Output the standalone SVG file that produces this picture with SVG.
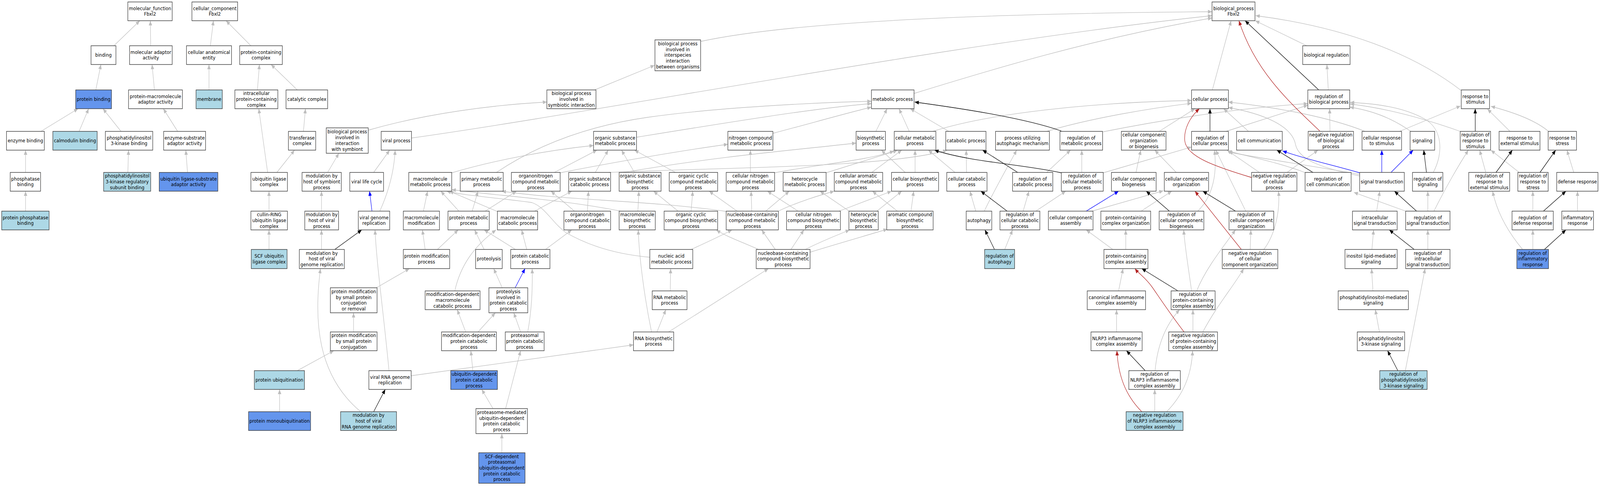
<svg xmlns="http://www.w3.org/2000/svg" width="4693" height="1243" viewBox="0 0 4693 1243" preserveAspectRatio="none" style="width:100%;height:100%">
<style>
.nd rect{stroke:#383838;stroke-width:1.4}
.w{fill:#fff}.lb{fill:#add8e6}.db{fill:#6495ed}
text{font-family:"DejaVu Sans","Liberation Sans",sans-serif;font-size:13px;text-anchor:middle;fill:#000}
#edges path{fill:none;stroke-width:1.3}
.g{stroke:#bebebe;marker-end:url(#mg)}.k{stroke:#000;marker-end:url(#mk)}.b{stroke:#00f;marker-end:url(#mb)}.r{stroke:#b22222;marker-end:url(#mr)}
</style>
<defs>
<marker id="mg" viewBox="0 0 12 10" refX="12" refY="5" markerWidth="12" markerHeight="10" markerUnits="userSpaceOnUse" orient="auto"><path d="M0,0 L12,5 L0,10 z" fill="#bebebe"/></marker>
<marker id="mk" viewBox="0 0 12 10" refX="12" refY="5" markerWidth="12" markerHeight="10" markerUnits="userSpaceOnUse" orient="auto"><path d="M0,0 L12,5 L0,10 z" fill="#000"/></marker>
<marker id="mb" viewBox="0 0 12 10" refX="12" refY="5" markerWidth="12" markerHeight="10" markerUnits="userSpaceOnUse" orient="auto"><path d="M0,0 L12,5 L0,10 z" fill="#00f"/></marker>
<marker id="mr" viewBox="0 0 12 10" refX="12" refY="5" markerWidth="12" markerHeight="10" markerUnits="userSpaceOnUse" orient="auto"><path d="M0,0 L12,5 L0,10 z" fill="#b22222"/></marker>
</defs>
<rect width="4693" height="1243" fill="#fff"/>
<g id="edges">
<path class="g" d="M334,117 L410,53"/>
<path class="g" d="M442,117 L441,53"/>
<path class="g" d="M617,117 L626,53"/>
<path class="g" d="M736,117 L663,53"/>
<path class="g" d="M281,230 L296,165"/>
<path class="g" d="M453,230 L446,165"/>
<path class="g" d="M613,230 L613,165"/>
<path class="g" d="M755,230 L761,165"/>
<path class="g" d="M872,230 L795,165"/>
<path class="g" d="M120,336 L229,278"/>
<path class="g" d="M232,336 L260,278"/>
<path class="g" d="M355,336 L302,278"/>
<path class="g" d="M521,336 L479,278"/>
<path class="g" d="M75,441 L75,384"/>
<path class="g" d="M375,441 L377,384"/>
<path class="g" d="M550,441 L545,384"/>
<path class="g" d="M785,441 L759,278"/>
<path class="g" d="M75,540 L75,489"/>
<path class="g" d="M789,540 L789,489"/>
<path class="g" d="M789,638 L789,588"/>
<path class="g" d="M812,441 L864,384"/>
<path class="g" d="M890,336 L896,278"/>
<path class="g" d="M1080,333 C1250,290 1450,268 1604,261"/>
<path class="g" d="M1207,353 C1800,280 2800,110 3555,40"/>
<path class="g" d="M961,441 L994,392"/>
<path class="g" d="M1096,441 L1143,384"/>
<path class="g" d="M1114,540 C1140,490 1156,440 1159,384"/>
<path class="g" d="M943,540 L943,489"/>
<path class="g" d="M943,638 L943,588"/>
<path class="g" d="M1325,442 C1450,410 1600,385 1741,372"/>
<path class="g" d="M1456,441 C1560,380 1700,325 1900,300 S2400,262 2556,259"/>
<path class="g" d="M1242,540 L1254,489"/>
<path class="g" d="M1346,540 L1293,489"/>
<path class="g" d="M1385,540 L1402,489"/>
<path class="g" d="M1423,540 L1515,489"/>
<path class="g" d="M1459,541 L1318,489"/>
<path class="g" d="M1247,638 L1239,588"/>
<path class="g" d="M1283,638 L1344,588"/>
<path class="g" d="M1420,638 L1392,588"/>
<path class="g" d="M1512,638 L1420,588"/>
<path class="g" d="M1545,638 L1530,588"/>
<path class="g" d="M1600,638 L1677,588"/>
<path class="g" d="M1104,736 L1201,687"/>
<path class="g" d="M1037,849 L1037,800"/>
<path class="g" d="M872,948 L979,897"/>
<path class="g" d="M820,1053 L820,996"/>
<path class="g" d="M1058,1053 C930,960 920,820 940,687"/>
<path class="g" d="M1141,948 C1125,800 1105,680 1100,588"/>
<path class="g" d="M1206,961 L1858,882"/>
<path class="g" d="M1334,744 C1350,680 1390,630 1455,588"/>
<path class="g" d="M1473,736 L1448,687"/>
<path class="g" d="M1366,849 L1341,792"/>
<path class="g" d="M1402,849 L1453,800"/>
<path class="g" d="M1527,849 L1507,800"/>
<path class="g" d="M1548,849 C1560,790 1562,740 1561,687"/>
<path class="g" d="M1387,948 L1381,897"/>
<path class="g" d="M1446,1045 L1413,996"/>
<path class="g" d="M1483,1045 L1527,897"/>
<path class="g" d="M1472,1158 L1472,1109"/>
<path class="g" d="M1744,230 L1920,167"/>
<path class="g" d="M2055,106 C2300,60 2800,35 3555,30"/>
<path class="g" d="M1867,351 C2100,318 2400,275 2556,265"/>
<path class="g" d="M2267,341 C2380,315 2480,290 2556,274"/>
<path class="g" d="M1626,441 L1751,384"/>
<path class="g" d="M1643,442 C1800,415 2000,385 2135,369"/>
<path class="g" d="M1746,441 L1784,384"/>
<path class="g" d="M1861,441 L1823,384"/>
<path class="g" d="M1981,441 L1861,384"/>
<path class="g" d="M2201,441 L2201,384"/>
<path class="g" d="M1830,441 C2100,400 2350,382 2511,366"/>
<path class="g" d="M1785,441 C2100,428 2600,430 2778,384"/>
<path class="g" d="M1685,540 L1616,489"/>
<path class="g" d="M1723,540 L1726,489"/>
<path class="g" d="M1871,540 L1874,489"/>
<path class="g" d="M1820,540 C1650,510 1450,500 1325,485"/>
<path class="g" d="M2027,540 L2032,489"/>
<path class="g" d="M1989,540 L1917,489"/>
<path class="g" d="M2162,540 L2080,489"/>
<path class="g" d="M2205,540 L2203,489"/>
<path class="g" d="M2246,540 L2315,489"/>
<path class="g" d="M2283,540 C2330,520 2400,500 2447,489"/>
<path class="g" d="M2132,541 C1900,512 1650,512 1472,489"/>
<path class="g" d="M2341,540 L2251,489"/>
<path class="g" d="M2461,540 L2615,489"/>
<path class="g" d="M2491,540 L2405,489"/>
<path class="g" d="M2572,540 L2645,489"/>
<path class="g" d="M2632,540 L2559,489"/>
<path class="g" d="M2672,540 L2680,489"/>
<path class="g" d="M2557,441 L2645,384"/>
<path class="g" d="M2423,442 L2632,385"/>
<path class="g" d="M2272,442 C2400,420 2550,410 2622,386"/>
<path class="g" d="M2684,441 L2684,384"/>
<path class="g" d="M2655,441 L2585,384"/>
<path class="g" d="M2801,441 L2723,384"/>
<path class="g" d="M2835,441 L2834,384"/>
<path class="g" d="M2569,336 L2602,278"/>
<path class="g" d="M2667,336 L2637,278"/>
<path class="g" d="M2783,336 L2670,278"/>
<path class="g" d="M2681,239 C2900,180 3200,100 3555,46"/>
<path class="g" d="M2736,336 C2900,290 3200,262 3495,257"/>
<path class="g" d="M3070,336 C3200,302 3380,276 3495,264"/>
<path class="g" d="M2862,540 L2845,489"/>
<path class="g" d="M2887,540 C2920,480 2960,420 2982,384"/>
<path class="g" d="M3001,540 L3018,489"/>
<path class="g" d="M3038,540 L3126,489"/>
<path class="g" d="M2947,638 L2970,588"/>
<path class="g" d="M3070,441 L3140,384"/>
<path class="g" d="M3173,441 L3173,384"/>
<path class="g" d="M3236,442 L3495,376"/>
<path class="g" d="M3556,230 L3611,53"/>
<path class="g" d="M3833,117 L3682,53"/>
<path class="g" d="M4285,231 C4150,140 3950,70 3683,40"/>
<path class="g" d="M3896,230 L3892,165"/>
<path class="g" d="M3901,336 L3900,278"/>
<path class="g" d="M3236,337 C3450,300 3650,275 3836,265"/>
<path class="g" d="M3400,336 L3505,278"/>
<path class="g" d="M3596,336 L3836,269"/>
<path class="g" d="M3662,336 L3589,278"/>
<path class="g" d="M3332,441 L3346,384"/>
<path class="g" d="M3450,441 L3387,384"/>
<path class="g" d="M3694,441 L3599,384"/>
<path class="g" d="M3775,441 L3866,384"/>
<path class="g" d="M3830,442 C3750,415 3660,400 3601,386"/>
<path class="g" d="M3988,446 C3850,425 3700,405 3603,389"/>
<path class="g" d="M3988,450 C3880,430 3810,410 3800,370 C3790,320 3700,290 3603,275"/>
<path class="g" d="M3203,540 L3412,488"/>
<path class="g" d="M3347,540 L3437,489"/>
<path class="g" d="M3513,540 C3560,500 3570,440 3562,384"/>
<path class="g" d="M3654,540 L3566,384"/>
<path class="g" d="M3667,638 L3669,588"/>
<path class="g" d="M3707,638 C3740,600 3755,540 3750,489"/>
<path class="g" d="M3302,638 L3302,588"/>
<path class="g" d="M3264,638 L3186,588"/>
<path class="g" d="M3281,744 L3294,687"/>
<path class="g" d="M3275,849 L3275,792"/>
<path class="g" d="M3495,744 C3485,680 3475,630 3472,588"/>
<path class="g" d="M3510,744 C3535,690 3580,640 3624,588"/>
<path class="g" d="M3499,849 L3499,792"/>
<path class="g" d="M3528,849 C3570,780 3620,730 3648,687"/>
<path class="g" d="M3388,948 C3395,880 3420,830 3460,792"/>
<path class="g" d="M3387,1053 L3387,996"/>
<path class="g" d="M3422,1053 C3470,1010 3495,960 3498,897"/>
<path class="g" d="M4105,336 L4284,271"/>
<path class="g" d="M4004,336 C3900,300 3750,275 3603,261"/>
<path class="g" d="M4138,336 C4080,300 4020,282 3959,274"/>
<path class="g" d="M4283,336 C4150,295 4050,275 3960,266"/>
<path class="g" d="M4204,441 C4235,390 4230,330 4180,305 C4120,275 4040,265 3960,262"/>
<path class="g" d="M4429,336 L4363,279"/>
<path class="g" d="M4542,336 C4500,305 4430,285 4373,272"/>
<path class="g" d="M4358,441 L4340,384"/>
<path class="g" d="M4456,441 L4373,384"/>
<path class="g" d="M4616,441 L4596,384"/>
<path class="g" d="M4038,540 L4047,489"/>
<path class="g" d="M4188,540 L4188,489"/>
<path class="g" d="M4206,540 C4240,480 4280,420 4307,384"/>
<path class="g" d="M4123,540 L3971,492"/>
<path class="g" d="M4496,540 L4496,489"/>
<path class="g" d="M4627,540 L4627,489"/>
<path class="g" d="M4496,638 L4496,588"/>
<path class="g" d="M4466,638 C4420,590 4390,540 4378,489"/>
<path class="g" d="M4024,638 L4029,588"/>
<path class="g" d="M4188,638 L4188,588"/>
<path class="g" d="M4027,744 L4023,687"/>
<path class="g" d="M4046,849 L4034,792"/>
<path class="g" d="M4122,948 L4180,687"/>
<path class="g" d="M1927,849 L1953,792"/>
<path class="g" d="M1961,849 L2254,687"/>
<path class="g" d="M1911,849 C1890,760 1875,660 1872,588"/>
<path class="g" d="M1966,744 L1967,687"/>
<path class="g" d="M1907,658 C1800,650 1720,625 1660,595 C1620,570 1600,530 1560,518 C1450,505 1360,500 1310,489"/>
<path class="g" d="M2027,638 C2060,625 2110,605 2147,588"/>
<path class="g" d="M2274,638 L2234,588"/>
<path class="g" d="M2225,638 C2180,620 2130,605 2101,588"/>
<path class="g" d="M2320,638 L2358,588"/>
<path class="g" d="M2358,640 C2400,620 2460,600 2492,588"/>
<path class="g" d="M2376,645 C2450,625 2550,600 2603,586"/>
<path class="g" d="M1568,540 L1677,489"/>
<path class="k" d="M982,638 L1061,588"/>
<path class="k" d="M1096,1053 L1130,996"/>
<path class="k" d="M2985,441 L2882,384"/>
<path class="k" d="M3113,335 C3000,300 2800,275 2683,261"/>
<path class="k" d="M2954,540 L2877,489"/>
<path class="k" d="M2917,638 L2889,588"/>
<path class="k" d="M3113,442 C3000,420 2850,415 2741,384"/>
<path class="k" d="M3868,230 L3652,53"/>
<path class="k" d="M3549,336 L3549,278"/>
<path class="k" d="M3851,441 L3745,384"/>
<path class="k" d="M3430,540 L3362,489"/>
<path class="k" d="M3624,540 L3528,489"/>
<path class="k" d="M3455,744 L3349,687"/>
<path class="k" d="M3359,948 L3304,897"/>
<path class="k" d="M4327,336 L4327,278"/>
<path class="k" d="M4184,441 L4176,384"/>
<path class="k" d="M4388,441 L4436,384"/>
<path class="k" d="M4517,441 L4563,384"/>
<path class="k" d="M4155,540 L4090,489"/>
<path class="k" d="M4527,540 L4593,489"/>
<path class="k" d="M4530,638 L4593,588"/>
<path class="k" d="M4148,638 L4075,588"/>
<path class="k" d="M4100,948 L4070,897"/>
<path class="b" d="M1091,540 L1084,489"/>
<path class="b" d="M1511,736 L1540,687"/>
<path class="b" d="M3988,442 C3900,420 3820,405 3762,386"/>
<path class="b" d="M3186,540 L3281,489"/>
<path class="b" d="M4053,441 L4053,384"/>
<path class="b" d="M4080,441 L4145,384"/>
<path class="r" d="M3871,335 C3780,260 3680,180 3634,53"/>
<path class="r" d="M3671,454 C3560,425 3480,400 3475,360 C3472,330 3490,300 3518,278"/>
<path class="r" d="M3641,638 L3505,489"/>
<path class="r" d="M3473,849 C3430,800 3400,760 3380,735 C3360,710 3340,700 3329,687"/>
<path class="r" d="M3349,1053 C3300,1010 3280,960 3276,897"/>
</g>
<g id="n_mf" class="nd"><rect class="w" x="375" y="5" width="130" height="48"/><text x="440" y="25.65"><tspan x="440">molecular_function</tspan><tspan x="440" dy="14.7">Fbxl2</tspan></text></g>
<g id="n_cc" class="nd"><rect class="w" x="563" y="5" width="134" height="48"/><text x="630" y="25.65"><tspan x="630">cellular_component</tspan><tspan x="630" dy="14.7">Fbxl2</tspan></text></g>
<g id="n_bp" class="nd"><rect class="w" x="3555" y="5" width="126" height="48"/><text x="3618" y="25.65"><tspan x="3618">biological_process</tspan><tspan x="3618" dy="14.7">Fbxl2</tspan></text></g>
<g id="n_binding" class="nd"><rect class="w" x="267" y="117" width="73" height="48"/><text x="303.5" y="145">binding</text></g>
<g id="n_mad" class="nd"><rect class="w" x="380" y="117" width="125" height="48"/><text x="442.5" y="137.65"><tspan x="442.5">molecular adaptor</tspan><tspan x="442.5" dy="14.7">activity</tspan></text></g>
<g id="n_cae" class="nd"><rect class="w" x="547" y="117" width="132" height="48"/><text x="613" y="137.65"><tspan x="613">cellular anatomical</tspan><tspan x="613" dy="14.7">entity</tspan></text></g>
<g id="n_pcc" class="nd"><rect class="w" x="703" y="117" width="125" height="48"/><text x="765.5" y="137.65"><tspan x="765.5">protein-containing</tspan><tspan x="765.5" dy="14.7">complex</tspan></text></g>
<g id="n_interspecies" class="nd"><rect class="w" x="1921" y="102" width="134" height="79"/><text x="1988" y="116.1"><tspan x="1988">biological process</tspan><tspan x="1988" dy="14.7">involved in</tspan><tspan x="1988" dy="14.7">interspecies</tspan><tspan x="1988" dy="14.7">interaction</tspan><tspan x="1988" dy="14.7">between organisms</tspan></text></g>
<g id="n_bioreg" class="nd"><rect class="w" x="3821" y="117" width="139" height="48"/><text x="3890.5" y="145">biological regulation</text></g>
<g id="n_pbind" class="nd"><rect class="db" x="222" y="230" width="105" height="48"/><text x="274.5" y="258">protein binding</text></g>
<g id="n_pmad" class="nd"><rect class="w" x="377" y="230" width="158" height="48"/><text x="456" y="250.65"><tspan x="456">protein-macromolecule</tspan><tspan x="456" dy="14.7">adaptor activity</tspan></text></g>
<g id="n_membrane" class="nd"><rect class="lb" x="575" y="230" width="77" height="48"/><text x="613.5" y="258">membrane</text></g>
<g id="n_ipcc" class="nd"><rect class="w" x="689" y="230" width="126" height="48"/><text x="752" y="243.3"><tspan x="752">intracellular</tspan><tspan x="752" dy="14.7">protein-containing</tspan><tspan x="752" dy="14.7">complex</tspan></text></g>
<g id="n_catalytic" class="nd"><rect class="w" x="839" y="230" width="122" height="48"/><text x="900" y="258">catalytic complex</text></g>
<g id="n_symbiotic" class="nd"><rect class="w" x="1604" y="230" width="144" height="48"/><text x="1676" y="243.3"><tspan x="1676">biological process</tspan><tspan x="1676" dy="14.7">involved in</tspan><tspan x="1676" dy="14.7">symbiotic interaction</tspan></text></g>
<g id="n_metabolic" class="nd"><rect class="w" x="2556" y="230" width="125" height="48"/><text x="2618.5" y="258">metabolic process</text></g>
<g id="n_cellproc" class="nd"><rect class="w" x="3495" y="230" width="108" height="48"/><text x="3549" y="258">cellular process</text></g>
<g id="n_regbio" class="nd"><rect class="w" x="3836" y="230" width="123" height="48"/><text x="3897.5" y="250.65"><tspan x="3897.5">regulation of</tspan><tspan x="3897.5" dy="14.7">biological process</tspan></text></g>
<g id="n_resp" class="nd"><rect class="w" x="4286" y="230" width="83" height="48"/><text x="4327.5" y="250.65"><tspan x="4327.5">response to</tspan><tspan x="4327.5" dy="14.7">stimulus</tspan></text></g>
<g id="n_enzb" class="nd"><rect class="w" x="19" y="336" width="111" height="48"/><text x="74.5" y="364">enzyme binding</text></g>
<g id="n_calm" class="nd"><rect class="lb" x="155" y="336" width="130" height="48"/><text x="220" y="364">calmodulin binding</text></g>
<g id="n_pi3kb" class="nd"><rect class="w" x="309" y="336" width="139" height="48"/><text x="378.5" y="356.65"><tspan x="378.5">phosphatidylinositol</tspan><tspan x="378.5" dy="14.7">3-kinase binding</tspan></text></g>
<g id="n_esaa" class="nd"><rect class="w" x="480" y="336" width="123" height="48"/><text x="541.5" y="356.65"><tspan x="541.5">enzyme-substrate</tspan><tspan x="541.5" dy="14.7">adaptor activity</tspan></text></g>
<g id="n_transf" class="nd"><rect class="w" x="846" y="336" width="80" height="48"/><text x="886" y="356.65"><tspan x="886">transferase</tspan><tspan x="886" dy="14.7">complex</tspan></text></g>
<g id="n_withsym" class="nd"><rect class="w" x="957" y="327" width="123" height="65"/><text x="1018.5" y="341.45"><tspan x="1018.5">biological process</tspan><tspan x="1018.5" dy="14.7">involved in</tspan><tspan x="1018.5" dy="14.7">interaction</tspan><tspan x="1018.5" dy="14.7">with symbiont</tspan></text></g>
<g id="n_viral" class="nd"><rect class="w" x="1118" y="336" width="89" height="48"/><text x="1162.5" y="364">viral process</text></g>
<g id="n_osmp" class="nd"><rect class="w" x="1741" y="336" width="126" height="48"/><text x="1804" y="356.65"><tspan x="1804">organic substance</tspan><tspan x="1804" dy="14.7">metabolic process</tspan></text></g>
<g id="n_ncmp" class="nd"><rect class="w" x="2135" y="336" width="132" height="48"/><text x="2201" y="356.65"><tspan x="2201">nitrogen compound</tspan><tspan x="2201" dy="14.7">metabolic process</tspan></text></g>
<g id="n_biosyn" class="nd"><rect class="w" x="2511" y="336" width="86" height="48"/><text x="2554" y="356.65"><tspan x="2554">biosynthetic</tspan><tspan x="2554" dy="14.7">process</tspan></text></g>
<g id="n_cmp" class="nd"><rect class="w" x="2623" y="336" width="122" height="48"/><text x="2684" y="356.65"><tspan x="2684">cellular metabolic</tspan><tspan x="2684" dy="14.7">process</tspan></text></g>
<g id="n_catab" class="nd"><rect class="w" x="2774" y="336" width="118" height="48"/><text x="2833" y="364">catabolic process</text></g>
<g id="n_autoph_mech" class="nd"><rect class="w" x="2920" y="336" width="158" height="48"/><text x="2999" y="356.65"><tspan x="2999">process utilizing</tspan><tspan x="2999" dy="14.7">autophagic mechanism</tspan></text></g>
<g id="n_regmet" class="nd"><rect class="w" x="3109" y="336" width="125" height="48"/><text x="3171.5" y="356.65"><tspan x="3171.5">regulation of</tspan><tspan x="3171.5" dy="14.7">metabolic process</tspan></text></g>
<g id="n_ccob" class="nd"><rect class="w" x="3289" y="336" width="131" height="48"/><text x="3354.5" y="349.3"><tspan x="3354.5">cellular component</tspan><tspan x="3354.5" dy="14.7">organization</tspan><tspan x="3354.5" dy="14.7">or biogenesis</tspan></text></g>
<g id="n_regcell" class="nd"><rect class="w" x="3495" y="336" width="108" height="48"/><text x="3549" y="356.65"><tspan x="3549">regulation of</tspan><tspan x="3549" dy="14.7">cellular process</tspan></text></g>
<g id="n_cellcomm" class="nd"><rect class="w" x="3627" y="336" width="134" height="48"/><text x="3694" y="364">cell communication</text></g>
<g id="n_negregbio" class="nd"><rect class="w" x="3837" y="336" width="133" height="48"/><text x="3903.5" y="349.3"><tspan x="3903.5">negative regulation</tspan><tspan x="3903.5" dy="14.7">of biological</tspan><tspan x="3903.5" dy="14.7">process</tspan></text></g>
<g id="n_cresp" class="nd"><rect class="w" x="3995" y="336" width="116" height="48"/><text x="4053" y="356.65"><tspan x="4053">cellular response</tspan><tspan x="4053" dy="14.7">to stimulus</tspan></text></g>
<g id="n_signaling" class="nd"><rect class="w" x="4136" y="336" width="72" height="48"/><text x="4172" y="364">signaling</text></g>
<g id="n_regresp" class="nd"><rect class="w" x="4283" y="336" width="89" height="48"/><text x="4327.5" y="349.3"><tspan x="4327.5">regulation of</tspan><tspan x="4327.5" dy="14.7">response to</tspan><tspan x="4327.5" dy="14.7">stimulus</tspan></text></g>
<g id="n_respext" class="nd"><rect class="w" x="4397" y="336" width="120" height="48"/><text x="4457" y="356.65"><tspan x="4457">response to</tspan><tspan x="4457" dy="14.7">external stimulus</tspan></text></g>
<g id="n_respstress" class="nd"><rect class="w" x="4541" y="336" width="83" height="48"/><text x="4582.5" y="356.65"><tspan x="4582.5">response to</tspan><tspan x="4582.5" dy="14.7">stress</tspan></text></g>
<g id="n_phosb" class="nd"><rect class="w" x="30" y="441" width="89" height="48"/><text x="74.5" y="461.65"><tspan x="74.5">phosphatase</tspan><tspan x="74.5" dy="14.7">binding</tspan></text></g>
<g id="n_pi3kreg" class="nd"><rect class="lb" x="304" y="441" width="138" height="48"/><text x="373" y="454.3"><tspan x="373">phosphatidylinositol</tspan><tspan x="373" dy="14.7">3-kinase regulatory</tspan><tspan x="373" dy="14.7">subunit binding</tspan></text></g>
<g id="n_ulsaa" class="nd"><rect class="db" x="467" y="441" width="172" height="48"/><text x="553" y="461.65"><tspan x="553">ubiquitin ligase-substrate</tspan><tspan x="553" dy="14.7">adaptor activity</tspan></text></g>
<g id="n_ulc" class="nd"><rect class="w" x="736" y="441" width="107" height="48"/><text x="789.5" y="461.65"><tspan x="789.5">ubiquitin ligase</tspan><tspan x="789.5" dy="14.7">complex</tspan></text></g>
<g id="n_modsym" class="nd"><rect class="w" x="886" y="441" width="115" height="48"/><text x="943.5" y="454.3"><tspan x="943.5">modulation by</tspan><tspan x="943.5" dy="14.7">host of symbiont</tspan><tspan x="943.5" dy="14.7">process</tspan></text></g>
<g id="n_vlc" class="nd"><rect class="w" x="1026" y="441" width="99" height="48"/><text x="1075.5" y="469">viral life cycle</text></g>
<g id="n_mmp" class="nd"><rect class="w" x="1199" y="441" width="126" height="48"/><text x="1262" y="461.65"><tspan x="1262">macromolecule</tspan><tspan x="1262" dy="14.7">metabolic process</tspan></text></g>
<g id="n_pmp" class="nd"><rect class="w" x="1350" y="441" width="126" height="48"/><text x="1413" y="461.65"><tspan x="1413">primary metabolic</tspan><tspan x="1413" dy="14.7">process</tspan></text></g>
<g id="n_oncmp" class="nd"><rect class="w" x="1500" y="441" width="143" height="48"/><text x="1571.5" y="454.3"><tspan x="1571.5">organonitrogen</tspan><tspan x="1571.5" dy="14.7">compound metabolic</tspan><tspan x="1571.5" dy="14.7">process</tspan></text></g>
<g id="n_oscp" class="nd"><rect class="w" x="1668" y="441" width="123" height="48"/><text x="1729.5" y="461.65"><tspan x="1729.5">organic substance</tspan><tspan x="1729.5" dy="14.7">catabolic process</tspan></text></g>
<g id="n_osbp" class="nd"><rect class="w" x="1816" y="441" width="123" height="48"/><text x="1877.5" y="454.3"><tspan x="1877.5">organic substance</tspan><tspan x="1877.5" dy="14.7">biosynthetic</tspan><tspan x="1877.5" dy="14.7">process</tspan></text></g>
<g id="n_occmp" class="nd"><rect class="w" x="1963" y="441" width="142" height="48"/><text x="2034" y="454.3"><tspan x="2034">organic cyclic</tspan><tspan x="2034" dy="14.7">compound metabolic</tspan><tspan x="2034" dy="14.7">process</tspan></text></g>
<g id="n_cncmp" class="nd"><rect class="w" x="2130" y="441" width="142" height="48"/><text x="2201" y="454.3"><tspan x="2201">cellular nitrogen</tspan><tspan x="2201" dy="14.7">compound metabolic</tspan><tspan x="2201" dy="14.7">process</tspan></text></g>
<g id="n_hetmp" class="nd"><rect class="w" x="2297" y="441" width="126" height="48"/><text x="2360" y="461.65"><tspan x="2360">heterocycle</tspan><tspan x="2360" dy="14.7">metabolic process</tspan></text></g>
<g id="n_cacmp" class="nd"><rect class="w" x="2447" y="441" width="142" height="48"/><text x="2518" y="454.3"><tspan x="2518">cellular aromatic</tspan><tspan x="2518" dy="14.7">compound metabolic</tspan><tspan x="2518" dy="14.7">process</tspan></text></g>
<g id="n_cbp" class="nd"><rect class="w" x="2615" y="441" width="138" height="48"/><text x="2684" y="461.65"><tspan x="2684">cellular biosynthetic</tspan><tspan x="2684" dy="14.7">process</tspan></text></g>
<g id="n_ccatp" class="nd"><rect class="w" x="2777" y="441" width="118" height="48"/><text x="2836" y="461.65"><tspan x="2836">cellular catabolic</tspan><tspan x="2836" dy="14.7">process</tspan></text></g>
<g id="n_regcatp" class="nd"><rect class="w" x="2970" y="441" width="118" height="48"/><text x="3029" y="461.65"><tspan x="3029">regulation of</tspan><tspan x="3029" dy="14.7">catabolic process</tspan></text></g>
<g id="n_regcmp" class="nd"><rect class="w" x="3113" y="441" width="123" height="48"/><text x="3174.5" y="454.3"><tspan x="3174.5">regulation of</tspan><tspan x="3174.5" dy="14.7">cellular metabolic</tspan><tspan x="3174.5" dy="14.7">process</tspan></text></g>
<g id="n_ccbiog" class="nd"><rect class="w" x="3260" y="441" width="131" height="48"/><text x="3325.5" y="461.65"><tspan x="3325.5">cellular component</tspan><tspan x="3325.5" dy="14.7">biogenesis</tspan></text></g>
<g id="n_ccorg" class="nd"><rect class="w" x="3415" y="441" width="130" height="48"/><text x="3480" y="461.65"><tspan x="3480">cellular component</tspan><tspan x="3480" dy="14.7">organization</tspan></text></g>
<g id="n_negregcell" class="nd"><rect class="w" x="3671" y="441" width="133" height="48"/><text x="3737.5" y="454.3"><tspan x="3737.5">negative regulation</tspan><tspan x="3737.5" dy="14.7">of cellular</tspan><tspan x="3737.5" dy="14.7">process</tspan></text></g>
<g id="n_regcellcomm" class="nd"><rect class="w" x="3828" y="441" width="135" height="48"/><text x="3895.5" y="461.65"><tspan x="3895.5">regulation of</tspan><tspan x="3895.5" dy="14.7">cell communication</tspan></text></g>
<g id="n_sigtrans" class="nd"><rect class="w" x="3988" y="441" width="131" height="48"/><text x="4053.5" y="469">signal transduction</text></g>
<g id="n_regsig" class="nd"><rect class="w" x="4143" y="441" width="89" height="48"/><text x="4187.5" y="461.65"><tspan x="4187.5">regulation of</tspan><tspan x="4187.5" dy="14.7">signaling</tspan></text></g>
<g id="n_regrespext" class="nd"><rect class="w" x="4308" y="441" width="120" height="48"/><text x="4368" y="454.3"><tspan x="4368">regulation of</tspan><tspan x="4368" dy="14.7">response to</tspan><tspan x="4368" dy="14.7">external stimulus</tspan></text></g>
<g id="n_regrespstress" class="nd"><rect class="w" x="4452" y="441" width="89" height="48"/><text x="4496.5" y="454.3"><tspan x="4496.5">regulation of</tspan><tspan x="4496.5" dy="14.7">response to</tspan><tspan x="4496.5" dy="14.7">stress</tspan></text></g>
<g id="n_defense" class="nd"><rect class="w" x="4566" y="441" width="121" height="48"/><text x="4626.5" y="469">defense response</text></g>
<g id="n_ppb" class="nd"><rect class="lb" x="5" y="540" width="139" height="48"/><text x="74.5" y="560.65"><tspan x="74.5">protein phosphatase</tspan><tspan x="74.5" dy="14.7">binding</tspan></text></g>
<g id="n_crl" class="nd"><rect class="w" x="736" y="540" width="107" height="48"/><text x="789.5" y="553.3"><tspan x="789.5">cullin-RING</tspan><tspan x="789.5" dy="14.7">ubiquitin ligase</tspan><tspan x="789.5" dy="14.7">complex</tspan></text></g>
<g id="n_modvp" class="nd"><rect class="w" x="894" y="540" width="99" height="48"/><text x="943.5" y="553.3"><tspan x="943.5">modulation by</tspan><tspan x="943.5" dy="14.7">host of viral</tspan><tspan x="943.5" dy="14.7">process</tspan></text></g>
<g id="n_vgr" class="nd"><rect class="w" x="1051" y="540" width="92" height="48"/><text x="1097" y="560.65"><tspan x="1097">viral genome</tspan><tspan x="1097" dy="14.7">replication</tspan></text></g>
<g id="n_mmod" class="nd"><rect class="w" x="1183" y="540" width="106" height="48"/><text x="1236" y="560.65"><tspan x="1236">macromolecule</tspan><tspan x="1236" dy="14.7">modification</tspan></text></g>
<g id="n_protmp" class="nd"><rect class="w" x="1314" y="540" width="121" height="48"/><text x="1374.5" y="560.65"><tspan x="1374.5">protein metabolic</tspan><tspan x="1374.5" dy="14.7">process</tspan></text></g>
<g id="n_mcp" class="nd"><rect class="w" x="1459" y="540" width="118" height="48"/><text x="1518" y="560.65"><tspan x="1518">macromolecule</tspan><tspan x="1518" dy="14.7">catabolic process</tspan></text></g>
<g id="n_onccp" class="nd"><rect class="w" x="1654" y="540" width="137" height="48"/><text x="1722.5" y="553.3"><tspan x="1722.5">organonitrogen</tspan><tspan x="1722.5" dy="14.7">compound catabolic</tspan><tspan x="1722.5" dy="14.7">process</tspan></text></g>
<g id="n_mbp" class="nd"><rect class="w" x="1816" y="540" width="106" height="48"/><text x="1869" y="553.3"><tspan x="1869">macromolecule</tspan><tspan x="1869" dy="14.7">biosynthetic</tspan><tspan x="1869" dy="14.7">process</tspan></text></g>
<g id="n_occbp" class="nd"><rect class="w" x="1948" y="540" width="157" height="48"/><text x="2026.5" y="553.3"><tspan x="2026.5">organic cyclic</tspan><tspan x="2026.5" dy="14.7">compound biosynthetic</tspan><tspan x="2026.5" dy="14.7">process</tspan></text></g>
<g id="n_nccmp" class="nd"><rect class="w" x="2130" y="540" width="153" height="48"/><text x="2206.5" y="553.3"><tspan x="2206.5">nucleobase-containing</tspan><tspan x="2206.5" dy="14.7">compound metabolic</tspan><tspan x="2206.5" dy="14.7">process</tspan></text></g>
<g id="n_cncbp" class="nd"><rect class="w" x="2307" y="540" width="158" height="48"/><text x="2386" y="553.3"><tspan x="2386">cellular nitrogen</tspan><tspan x="2386" dy="14.7">compound biosynthetic</tspan><tspan x="2386" dy="14.7">process</tspan></text></g>
<g id="n_hetbp" class="nd"><rect class="w" x="2490" y="540" width="86" height="48"/><text x="2533" y="553.3"><tspan x="2533">heterocycle</tspan><tspan x="2533" dy="14.7">biosynthetic</tspan><tspan x="2533" dy="14.7">process</tspan></text></g>
<g id="n_acbp" class="nd"><rect class="w" x="2601" y="540" width="136" height="48"/><text x="2669" y="553.3"><tspan x="2669">aromatic compound</tspan><tspan x="2669" dy="14.7">biosynthetic</tspan><tspan x="2669" dy="14.7">process</tspan></text></g>
<g id="n_autophagy" class="nd"><rect class="w" x="2834" y="540" width="75" height="48"/><text x="2871.5" y="568">autophagy</text></g>
<g id="n_regccatp" class="nd"><rect class="w" x="2933" y="540" width="117" height="48"/><text x="2991.5" y="553.3"><tspan x="2991.5">regulation of</tspan><tspan x="2991.5" dy="14.7">cellular catabolic</tspan><tspan x="2991.5" dy="14.7">process</tspan></text></g>
<g id="n_cca" class="nd"><rect class="w" x="3075" y="540" width="131" height="48"/><text x="3140.5" y="560.65"><tspan x="3140.5">cellular component</tspan><tspan x="3140.5" dy="14.7">assembly</tspan></text></g>
<g id="n_pcco" class="nd"><rect class="w" x="3229" y="540" width="146" height="48"/><text x="3302" y="560.65"><tspan x="3302">protein-containing</tspan><tspan x="3302" dy="14.7">complex organization</tspan></text></g>
<g id="n_regccb" class="nd"><rect class="w" x="3400" y="540" width="131" height="48"/><text x="3465.5" y="553.3"><tspan x="3465.5">regulation of</tspan><tspan x="3465.5" dy="14.7">cellular component</tspan><tspan x="3465.5" dy="14.7">biogenesis</tspan></text></g>
<g id="n_regcco" class="nd"><rect class="w" x="3605" y="540" width="131" height="48"/><text x="3670.5" y="553.3"><tspan x="3670.5">regulation of</tspan><tspan x="3670.5" dy="14.7">cellular component</tspan><tspan x="3670.5" dy="14.7">organization</tspan></text></g>
<g id="n_ist" class="nd"><rect class="w" x="3967" y="540" width="131" height="48"/><text x="4032.5" y="560.65"><tspan x="4032.5">intracellular</tspan><tspan x="4032.5" dy="14.7">signal transduction</tspan></text></g>
<g id="n_regst" class="nd"><rect class="w" x="4123" y="540" width="130" height="48"/><text x="4188" y="560.65"><tspan x="4188">regulation of</tspan><tspan x="4188" dy="14.7">signal transduction</tspan></text></g>
<g id="n_regdef" class="nd"><rect class="w" x="4435" y="540" width="121" height="48"/><text x="4495.5" y="560.65"><tspan x="4495.5">regulation of</tspan><tspan x="4495.5" dy="14.7">defense response</tspan></text></g>
<g id="n_inflam" class="nd"><rect class="w" x="4581" y="540" width="93" height="48"/><text x="4627.5" y="560.65"><tspan x="4627.5">inflammatory</tspan><tspan x="4627.5" dy="14.7">response</tspan></text></g>
<g id="n_scf" class="nd"><rect class="lb" x="737" y="638" width="105" height="49"/><text x="789.5" y="659.15"><tspan x="789.5">SCF ubiquitin</tspan><tspan x="789.5" dy="14.7">ligase complex</tspan></text></g>
<g id="n_modvgr" class="nd"><rect class="w" x="878" y="638" width="132" height="49"/><text x="944" y="651.8"><tspan x="944">modulation by</tspan><tspan x="944" dy="14.7">host of viral</tspan><tspan x="944" dy="14.7">genome replication</tspan></text></g>
<g id="n_pmodp" class="nd"><rect class="w" x="1183" y="638" width="136" height="49"/><text x="1251" y="659.15"><tspan x="1251">protein modification</tspan><tspan x="1251" dy="14.7">process</tspan></text></g>
<g id="n_proteolysis" class="nd"><rect class="w" x="1395" y="638" width="78" height="49"/><text x="1434" y="666.5">proteolysis</text></g>
<g id="n_pcatp" class="nd"><rect class="w" x="1498" y="638" width="115" height="49"/><text x="1555.5" y="659.15"><tspan x="1555.5">protein catabolic</tspan><tspan x="1555.5" dy="14.7">process</tspan></text></g>
<g id="n_namp" class="nd"><rect class="w" x="1906" y="638" width="126" height="49"/><text x="1969" y="659.15"><tspan x="1969">nucleic acid</tspan><tspan x="1969" dy="14.7">metabolic process</tspan></text></g>
<g id="n_ncbp" class="nd"><rect class="w" x="2218" y="638" width="158" height="49"/><text x="2297" y="651.8"><tspan x="2297">nucleobase-containing</tspan><tspan x="2297" dy="14.7">compound biosynthetic</tspan><tspan x="2297" dy="14.7">process</tspan></text></g>
<g id="n_regautoph" class="nd"><rect class="lb" x="2888" y="638" width="88" height="49"/><text x="2932" y="659.15"><tspan x="2932">regulation of</tspan><tspan x="2932" dy="14.7">autophagy</tspan></text></g>
<g id="n_pcca" class="nd"><rect class="w" x="3238" y="638" width="129" height="49"/><text x="3302.5" y="659.15"><tspan x="3302.5">protein-containing</tspan><tspan x="3302.5" dy="14.7">complex assembly</tspan></text></g>
<g id="n_negregcco" class="nd"><rect class="w" x="3585" y="638" width="163" height="49"/><text x="3666.5" y="651.8"><tspan x="3666.5">negative regulation</tspan><tspan x="3666.5" dy="14.7">of cellular</tspan><tspan x="3666.5" dy="14.7">component organization</tspan></text></g>
<g id="n_ilms" class="nd"><rect class="w" x="3945" y="638" width="153" height="49"/><text x="4021.5" y="659.15"><tspan x="4021.5">inositol lipid-mediated</tspan><tspan x="4021.5" dy="14.7">signaling</tspan></text></g>
<g id="n_regist" class="nd"><rect class="w" x="4123" y="638" width="130" height="49"/><text x="4188" y="651.8"><tspan x="4188">regulation of</tspan><tspan x="4188" dy="14.7">intracellular</tspan><tspan x="4188" dy="14.7">signal transduction</tspan></text></g>
<g id="n_reginflam" class="nd"><rect class="db" x="4449" y="638" width="93" height="49"/><text x="4495.5" y="651.8"><tspan x="4495.5">regulation of</tspan><tspan x="4495.5" dy="14.7">inflammatory</tspan><tspan x="4495.5" dy="14.7">response</tspan></text></g>
<g id="n_pmspcr" class="nd"><rect class="w" x="969" y="736" width="137" height="64"/><text x="1037.5" y="749.95"><tspan x="1037.5">protein modification</tspan><tspan x="1037.5" dy="14.7">by small protein</tspan><tspan x="1037.5" dy="14.7">conjugation</tspan><tspan x="1037.5" dy="14.7">or removal</tspan></text></g>
<g id="n_mdmcp" class="nd"><rect class="w" x="1247" y="744" width="161" height="48"/><text x="1327.5" y="757.3"><tspan x="1327.5">modification-dependent</tspan><tspan x="1327.5" dy="14.7">macromolecule</tspan><tspan x="1327.5" dy="14.7">catabolic process</tspan></text></g>
<g id="n_picp" class="nd"><rect class="w" x="1434" y="736" width="114" height="64"/><text x="1491" y="749.95"><tspan x="1491">proteolysis</tspan><tspan x="1491" dy="14.7">involved in</tspan><tspan x="1491" dy="14.7">protein catabolic</tspan><tspan x="1491" dy="14.7">process</tspan></text></g>
<g id="n_rnamp" class="nd"><rect class="w" x="1913" y="744" width="102" height="48"/><text x="1964" y="764.65"><tspan x="1964">RNA metabolic</tspan><tspan x="1964" dy="14.7">process</tspan></text></g>
<g id="n_cica" class="nd"><rect class="w" x="3189" y="744" width="171" height="48"/><text x="3274.5" y="764.65"><tspan x="3274.5">canonical inflammasome</tspan><tspan x="3274.5" dy="14.7">complex assembly</tspan></text></g>
<g id="n_regpcca" class="nd"><rect class="w" x="3435" y="744" width="129" height="48"/><text x="3499.5" y="757.3"><tspan x="3499.5">regulation of</tspan><tspan x="3499.5" dy="14.7">protein-containing</tspan><tspan x="3499.5" dy="14.7">complex assembly</tspan></text></g>
<g id="n_pims" class="nd"><rect class="w" x="3925" y="744" width="206" height="48"/><text x="4028" y="764.65"><tspan x="4028">phosphatidylinositol-mediated</tspan><tspan x="4028" dy="14.7">signaling</tspan></text></g>
<g id="n_pmspc" class="nd"><rect class="w" x="969" y="849" width="137" height="48"/><text x="1037.5" y="862.3"><tspan x="1037.5">protein modification</tspan><tspan x="1037.5" dy="14.7">by small protein</tspan><tspan x="1037.5" dy="14.7">conjugation</tspan></text></g>
<g id="n_mdpcp" class="nd"><rect class="w" x="1295" y="849" width="161" height="48"/><text x="1375.5" y="862.3"><tspan x="1375.5">modification-dependent</tspan><tspan x="1375.5" dy="14.7">protein catabolic</tspan><tspan x="1375.5" dy="14.7">process</tspan></text></g>
<g id="n_ppcp" class="nd"><rect class="w" x="1482" y="849" width="114" height="48"/><text x="1539" y="862.3"><tspan x="1539">proteasomal</tspan><tspan x="1539" dy="14.7">protein catabolic</tspan><tspan x="1539" dy="14.7">process</tspan></text></g>
<g id="n_rnabp" class="nd"><rect class="w" x="1858" y="849" width="118" height="48"/><text x="1917" y="869.65"><tspan x="1917">RNA biosynthetic</tspan><tspan x="1917" dy="14.7">process</tspan></text></g>
<g id="n_nlrp3" class="nd"><rect class="w" x="3200" y="849" width="150" height="48"/><text x="3275" y="869.65"><tspan x="3275">NLRP3 inflammasome</tspan><tspan x="3275" dy="14.7">complex assembly</tspan></text></g>
<g id="n_negregpcca" class="nd"><rect class="w" x="3428" y="849" width="143" height="48"/><text x="3499.5" y="862.3"><tspan x="3499.5">negative regulation</tspan><tspan x="3499.5" dy="14.7">of protein-containing</tspan><tspan x="3499.5" dy="14.7">complex assembly</tspan></text></g>
<g id="n_pi3ks" class="nd"><rect class="w" x="3981" y="849" width="139" height="48"/><text x="4050.5" y="869.65"><tspan x="4050.5">phosphatidylinositol</tspan><tspan x="4050.5" dy="14.7">3-kinase signaling</tspan></text></g>
<g id="n_pubiq" class="nd"><rect class="lb" x="746" y="948" width="147" height="48"/><text x="819.5" y="976">protein ubiquitination</text></g>
<g id="n_vrgr" class="nd"><rect class="w" x="1082" y="948" width="124" height="48"/><text x="1144" y="968.65"><tspan x="1144">viral RNA genome</tspan><tspan x="1144" dy="14.7">replication</tspan></text></g>
<g id="n_udpcp" class="nd"><rect class="db" x="1322" y="948" width="137" height="48"/><text x="1390.5" y="961.3"><tspan x="1390.5">ubiquitin-dependent</tspan><tspan x="1390.5" dy="14.7">protein catabolic</tspan><tspan x="1390.5" dy="14.7">process</tspan></text></g>
<g id="n_regnlrp3" class="nd"><rect class="w" x="3311" y="948" width="151" height="48"/><text x="3386.5" y="961.3"><tspan x="3386.5">regulation of</tspan><tspan x="3386.5" dy="14.7">NLRP3 inflammasome</tspan><tspan x="3386.5" dy="14.7">complex assembly</tspan></text></g>
<g id="n_regpi3ks" class="nd"><rect class="lb" x="4047" y="948" width="139" height="48"/><text x="4116.5" y="961.3"><tspan x="4116.5">regulation of</tspan><tspan x="4116.5" dy="14.7">phosphatidylinositol</tspan><tspan x="4116.5" dy="14.7">3-kinase signaling</tspan></text></g>
<g id="n_pmonoubiq" class="nd"><rect class="db" x="729" y="1053" width="182" height="48"/><text x="820" y="1081">protein monoubiquitination</text></g>
<g id="n_modvrgr" class="nd"><rect class="lb" x="999" y="1053" width="164" height="48"/><text x="1081" y="1066.3"><tspan x="1081">modulation by</tspan><tspan x="1081" dy="14.7">host of viral</tspan><tspan x="1081" dy="14.7">RNA genome replication</tspan></text></g>
<g id="n_pmudp" class="nd"><rect class="w" x="1396" y="1045" width="151" height="64"/><text x="1471.5" y="1058.95"><tspan x="1471.5">proteasome-mediated</tspan><tspan x="1471.5" dy="14.7">ubiquitin-dependent</tspan><tspan x="1471.5" dy="14.7">protein catabolic</tspan><tspan x="1471.5" dy="14.7">process</tspan></text></g>
<g id="n_negregnlrp3" class="nd"><rect class="lb" x="3303" y="1053" width="167" height="48"/><text x="3386.5" y="1066.3"><tspan x="3386.5">negative regulation</tspan><tspan x="3386.5" dy="14.7">of NLRP3 inflammasome</tspan><tspan x="3386.5" dy="14.7">complex assembly</tspan></text></g>
<g id="n_scfdep" class="nd"><rect class="db" x="1404" y="1158" width="136" height="78"/><text x="1472" y="1171.6"><tspan x="1472">SCF-dependent</tspan><tspan x="1472" dy="14.7">proteasomal</tspan><tspan x="1472" dy="14.7">ubiquitin-dependent</tspan><tspan x="1472" dy="14.7">protein catabolic</tspan><tspan x="1472" dy="14.7">process</tspan></text></g>
</svg>
